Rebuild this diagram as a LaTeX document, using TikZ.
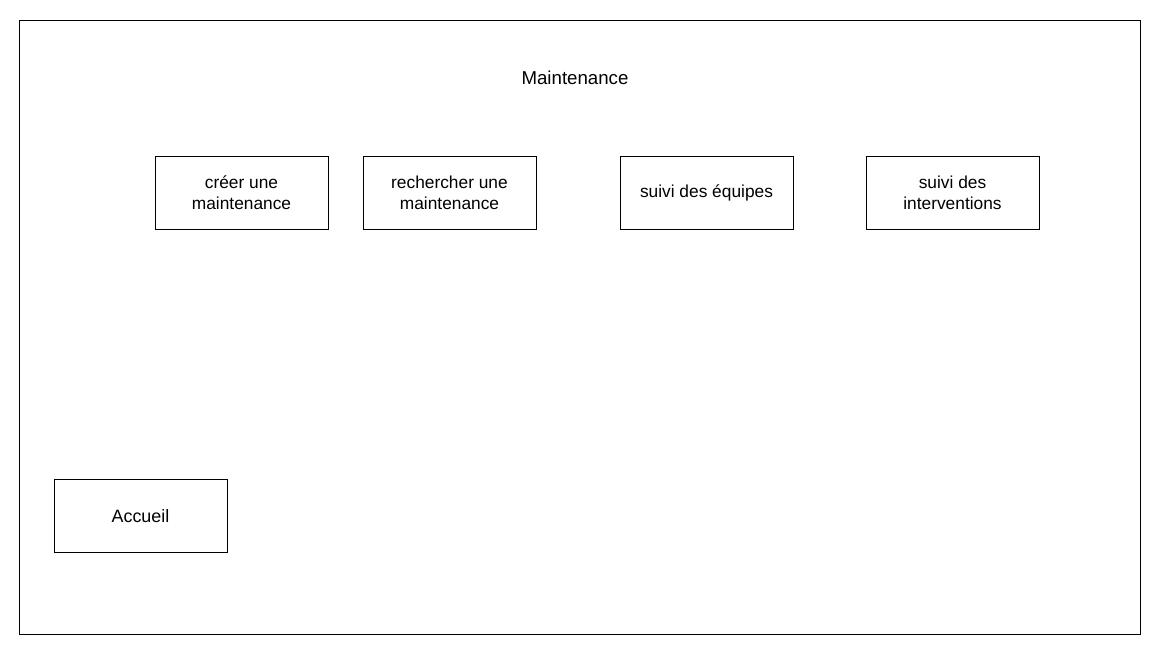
\documentclass[tikz,border=0pt]{standalone}
\usepackage{fontspec}
\setmainfont{Liberation Sans}
\usepackage{tikz}

\begin{document}
\begin{tikzpicture}[x=0.75pt,y=-0.75pt,
    ecran/.style={draw=black, line width=0.75pt},
    bouton/.style={draw=black, line width=0.75pt, minimum width=129.75pt, minimum height=54.75pt, inner sep=0pt, align=center, font=\fontsize{13}{15.75}\selectfont}]
\useasboundingbox (0,0) rectangle (1158,647);
% Cadre de la page
\draw[ecran] (19,20) rectangle (1140,634);
\node[font=\fontsize{14}{16}\selectfont] (titre) at (575,78) {Maintenance};

% Boutons du menu
\node[bouton] (creer) at (241.5,193) {créer une\\maintenance};
\node[bouton] (rechercher) at (449.5,193) {rechercher une\\maintenance};
\node[bouton] (equipes) at (706.5,193) {suivi des équipes};
\node[bouton] (interventions) at (952.5,193) {suivi des\\interventions};

% Retour
\node[bouton, font=\fontsize{13.4}{16}\selectfont] (accueil) at (140.5,516) {Accueil};
\end{tikzpicture}
\end{document}
